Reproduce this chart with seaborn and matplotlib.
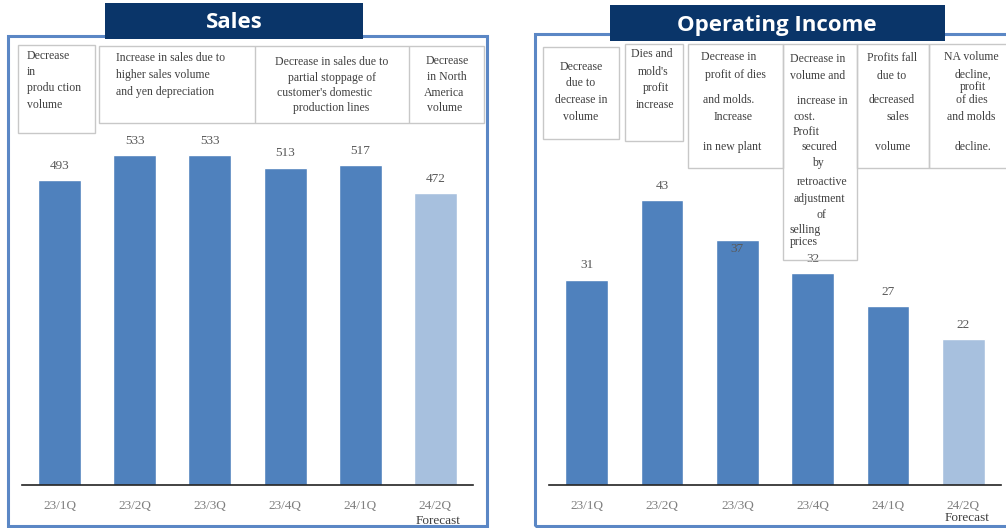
import matplotlib
matplotlib.use("Agg")
import matplotlib.pyplot as plt
import seaborn as sns
from matplotlib.patches import Rectangle

quarters = ["23/1Q", "23/2Q", "23/3Q", "23/4Q", "24/1Q", "24/2Q"]
sales = [493, 533, 533, 513, 517, 472]
op_income = [31, 43, 37, 32, 27, 22]
forecast_label = "Forecast"

sales_notes = [
    ["Decrease", "in", "produ ction", "volume"],
    ["Increase in sales due to", "higher sales volume", "and yen depreciation"],
    ["Decrease in sales due to", "partial stoppage of", "customer's domestic", "production lines"],
    ["Decrease", "in North", "America", "volume"],
]
income_notes = [
    ["Decrease", "due to", "decrease in", "volume"],
    ["Dies and", "mold's", "profit", "increase"],
    ["Decrease in", "profit of dies", "and molds.", "Increase", "in new plant"],
    ["Decrease in", "volume and", "increase in", "cost.", "Profit", "secured", "by",
     "retroactive", "adjustment", "of", "selling", "prices"],
    ["Profits fall", "due to", "decreased", "sales", "volume"],
    ["NA volume", "decline,", "profit", "of dies", "and molds", "decline."],
]

W, H = 1006, 528
BAR = "#4F81BD"
FC = "#A7C0DE"
NAVY = "#0A3569"
FRAME = "#5B87C5"
GRID = "#C8C8C8"
NOTE = "#404040"

sns.set_theme(style="white")
plt.rcParams["font.family"] = ["Liberation Serif", "DejaVu Serif"]

fig = plt.figure(figsize=(W / 100, H / 100), dpi=100)


def fx(x):
    return x / W


def fy(y):
    return 1 - y / H


def box(x0, y0, x1, y1, **kw):
    fig.patches.append(Rectangle((fx(x0), fy(y1)), fx(x1) - fx(x0), fy(y0) - fy(y1),
                                 transform=fig.transFigure, figure=fig, **kw))


palette = [BAR] * (len(quarters) - 1) + [FC]


def panel(ax, values, ymax, label_offsets):
    sns.barplot(x=quarters, y=values, hue=quarters, palette=palette, legend=False,
                width=0.57, saturation=1, ax=ax)
    ax.set_ylim(0, ymax)
    ax.patch.set_alpha(0)
    for s in ["top", "left", "right"]:
        ax.spines[s].set_visible(False)
    ax.spines["bottom"].set_color("#222222")
    ax.spines["bottom"].set_linewidth(1.2)
    ax.set_yticks([])
    ax.set_xlabel("")
    ax.set_ylabel("")
    ax.tick_params(axis="x", length=0, pad=11, labelsize=9.5, labelcolor="#7F7F7F")
    for i, v in enumerate(values):
        ax.annotate(str(v), (i, v), xytext=(0, label_offsets[i]), textcoords="offset points",
                    ha="center", va="center", fontsize=9.5, color="#595959")


ax1 = fig.add_axes([fx(22), fy(485), 451 / W, 371 / H])
panel(ax1, sales, 600, [10.5] * 6)
ax2 = fig.add_axes([fx(549), fy(485), 452 / W, 397 / H])
panel(ax2, op_income, 60, [10.5, 10.5, -6, 10.5, 10.5, 10.5])

fig.text(fx(438), fy(521), forecast_label, ha="center", va="center", fontsize=9.5, color=NOTE)
fig.text(fx(967), fy(518), forecast_label, ha="center", va="center", fontsize=9.5, color=NOTE)

# panel frames and titles
box(8, 36, 487, 526, fill=False, ec=FRAME, lw=2.2, zorder=2)
box(535, 34, 1030, 526, fill=False, ec=FRAME, lw=2.2, zorder=2)
box(105, 3, 363, 39, fc=NAVY, ec="none", zorder=3)
box(610, 5, 945, 41, fc=NAVY, ec="none", zorder=3)
fig.text(fx(234), fy(22), "Sales", ha="center", va="center", fontsize=16, fontweight="bold",
         color="white", family=["Open Sans", "DejaVu Sans"], zorder=4)
fig.text(fx(777), fy(25), "Operating Income", ha="center", va="center", fontsize=16,
         fontweight="bold", color="white", family=["Open Sans", "DejaVu Sans"], zorder=4)

# note boxes
box(18, 45, 95, 133, fill=False, ec=GRID, lw=1)
box(99, 46, 484, 123, fill=False, ec=GRID, lw=1)
for xs in [255, 409]:
    box(xs, 46, xs, 123, fill=False, ec=GRID, lw=1)
for x0, y0, x1, y1 in [(543, 47, 619, 139), (625, 44, 683, 141), (688, 44, 783, 168),
                       (783, 44, 857, 260), (857, 44, 929, 168), (929, 44, 1012, 168)]:
    box(x0, y0, x1, y1, fill=False, ec=GRID, lw=1)

# line placement (x, y, ha) per note line
sales_pos = [
    [(27, 56, "left"), (27, 72, "left"), (27, 88, "left"), (27, 105, "left")],
    [(116, 58, "left"), (116, 75, "left"), (116, 92, "left")],
    [(332, 62, "center"), (332, 78, "center"), (325, 93, "center"), (331, 108, "center")],
    [(447, 61, "center"), (447, 77, "center"), (444, 93, "center"), (445, 108, "center")],
]
income_pos = [
    [(581, 67, "center"), (581, 83, "center"), (581, 100, "center"), (581, 117, "center")],
    [(652, 54, "center"), (653, 72, "center"), (656, 88, "center"), (655, 105, "center")],
    [(729, 57, "center"), (735, 75, "center"), (729, 100, "center"), (733, 117, "center"),
     (732, 147, "center")],
    [(818, 59, "center"), (818, 76, "center"), (822, 101, "center"), (793, 117, "left"),
     (793, 132, "left"), (819, 147, "center"), (818, 163, "center"), (822, 182, "center"),
     (819, 199, "center"), (821, 215, "center"), (790, 230, "left"), (790, 242, "left")],
    [(892, 58, "center"), (892, 76, "center"), (892, 100, "center"), (898, 117, "center"),
     (893, 147, "center")],
    [(971, 57, "center"), (973, 75, "center"), (973, 87, "center"), (972, 100, "center"),
     (971, 117, "center"), (973, 147, "center")],
]
for notes, positions in [(sales_notes, sales_pos), (income_notes, income_pos)]:
    for lines, pos in zip(notes, positions):
        for line, (x, y, ha) in zip(lines, pos):
            fig.text(fx(x), fy(y), line, ha=ha, va="center", fontsize=8.5, color=NOTE)

fig.savefig("out.png", dpi=100)
